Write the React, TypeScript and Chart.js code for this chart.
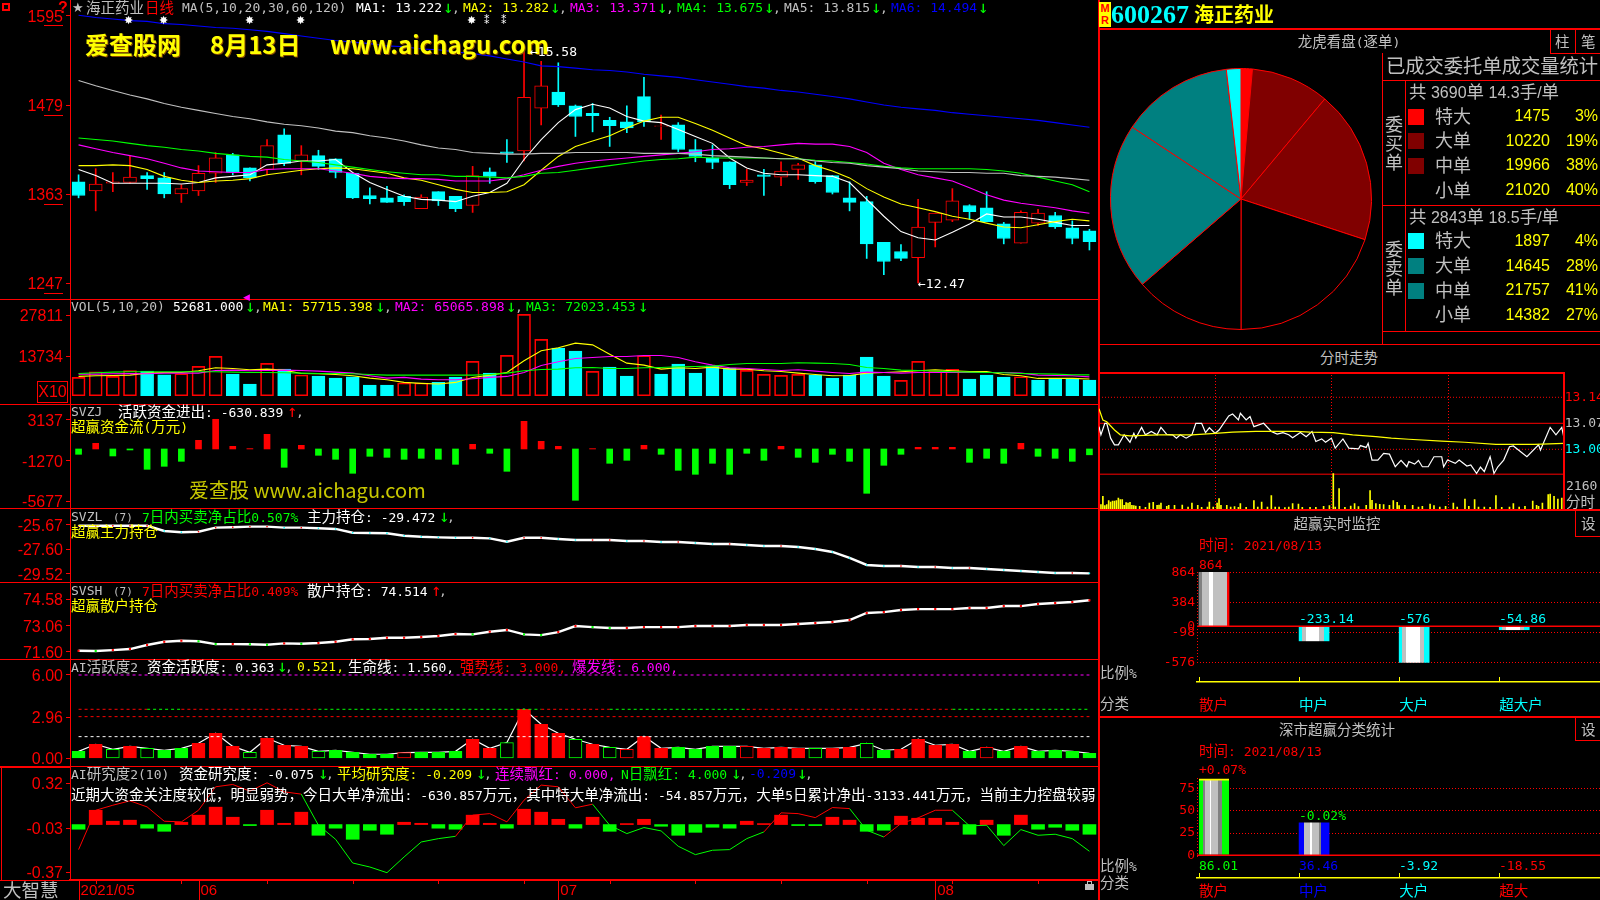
import React, { useEffect, useRef } from "react";
import { Chart, registerables } from "chart.js";
Chart.register(...registerables);

const idx = Array.from({ length: 60 }, (_, i) => String(i));
const candleOpen = [1379,1367,1377,1378,1387,1384,1363,1367,1390,1414,1397,1395,1440,1406,1413,1409,1390,1361,1358,1360,1344,1366,1360,1348,1392,1418,1419,1475,1496,1478,1468,1459,1457,1490,1451,1453,1421,1410,1405,1378,1388,1385,1395,1401,1387,1358,1353,1300,1288,1280,1326,1329,1348,1345,1324,1299,1325,1335,1319,1315];
const candleClose = [1361,1376,1379,1385,1383,1363,1370,1390,1410,1391,1384,1426,1403,1414,1399,1391,1358,1357,1352,1353,1359,1354,1344,1387,1386,1416,1489,1504,1479,1464,1465,1452,1449,1457,1452,1421,1412,1404,1375,1381,1386,1393,1401,1379,1365,1352,1298,1275,1279,1320,1338,1354,1340,1327,1305,1339,1338,1320,1305,1301];
const candleHigh = [1388,1396,1391,1412,1391,1391,1375,1400,1417,1416,1397,1434,1448,1426,1420,1409,1390,1371,1373,1362,1362,1366,1360,1399,1397,1434,1551,1536,1534,1479,1481,1463,1478,1515,1466,1456,1434,1427,1405,1395,1395,1405,1403,1405,1387,1379,1360,1300,1297,1356,1338,1370,1349,1366,1326,1341,1343,1339,1328,1317];
const candleLow = [1358,1341,1366,1377,1369,1358,1352,1361,1378,1388,1380,1388,1400,1388,1395,1384,1357,1350,1352,1348,1344,1348,1340,1339,1377,1404,1406,1453,1477,1438,1444,1425,1443,1451,1434,1418,1405,1396,1370,1374,1361,1374,1382,1377,1363,1341,1279,1258,1276,1247,1294,1327,1330,1327,1298,1299,1322,1318,1298,1290];
const ma1 = [1395,1387,1377,1377,1377,1377,1376,1378,1384,1386,1388,1401,1403,1406,1406,1408,1391,1378,1369,1360,1356,1355,1353,1360,1365,1377,1408,1434,1456,1473,1480,1475,1464,1458,1456,1447,1438,1429,1410,1397,1390,1388,1388,1387,1386,1378,1356,1334,1314,1306,1303,1313,1324,1337,1333,1333,1330,1326,1322,1322];
const ma2 = [1400,1400,1401,1400,1395,1386,1381,1378,1380,1381,1383,1388,1391,1394,1396,1397,1396,1393,1390,1384,1381,1375,1369,1365,1365,1366,1375,1394,1412,1425,1432,1439,1449,1458,1463,1463,1455,1446,1436,1426,1422,1416,1410,1400,1393,1384,1370,1359,1350,1345,1340,1334,1330,1325,1320,1319,1323,1327,1330,1328];
const ma3 = [1427,1422,1417,1413,1409,1403,1397,1393,1392,1391,1391,1395,1396,1396,1396,1393,1390,1386,1384,1383,1383,1382,1380,1380,1380,1383,1388,1394,1399,1403,1406,1408,1410,1412,1414,1416,1418,1421,1422,1424,1425,1427,1429,1428,1428,1425,1417,1403,1395,1388,1384,1380,1371,1362,1355,1351,1348,1345,1341,1338];
const ma4 = [1436,1434,1432,1429,1426,1424,1421,1419,1416,1414,1412,1411,1408,1406,1404,1401,1398,1395,1392,1390,1388,1388,1386,1386,1385,1384,1386,1390,1391,1394,1397,1400,1403,1406,1408,1409,1411,1410,1410,1410,1410,1409,1409,1407,1406,1404,1402,1399,1397,1396,1396,1396,1396,1395,1393,1390,1385,1380,1375,1366];
const ma5 = [1511,1504,1498,1492,1487,1481,1476,1472,1468,1464,1461,1457,1454,1452,1449,1445,1443,1439,1436,1432,1427,1423,1421,1417,1416,1415,1415,1416,1416,1417,1417,1417,1417,1416,1416,1416,1415,1413,1412,1411,1410,1409,1409,1406,1404,1403,1400,1398,1396,1393,1392,1391,1391,1390,1390,1387,1386,1385,1383,1381];
const ma6 = [1596,1593,1591,1589,1588,1585,1584,1582,1580,1579,1577,1575,1572,1569,1566,1563,1561,1559,1556,1555,1552,1551,1548,1546,1543,1539,1535,1530,1529,1527,1525,1524,1522,1519,1517,1515,1512,1509,1506,1503,1501,1498,1496,1493,1490,1487,1483,1479,1476,1474,1472,1469,1467,1465,1463,1461,1459,1456,1453,1450];
const priceTicks = [1595, 1479, 1363, 1247];

const volume = [6342,8302,6687,8648,8532,7264,7610,10146,13605,7495,4036,11184,9224,7149,6803,6111,6572,3690,3690,4381,4381,4612,6457,11876,7840,13951,28133,19486,16488,15450,8417,9916,6803,13836,7495,10954,7840,10377,9570,8763,7379,7033,7379,7149,6111,7149,13375,6803,5304,11876,8648,9109,5765,7149,6457,6572,5419,5996,5996,5419];
const volumeUp = [1,1,1,1,0,0,1,1,1,0,0,1,0,1,0,0,0,0,0,1,1,0,0,1,0,1,1,1,0,0,1,0,0,1,0,0,0,0,0,1,1,1,1,0,0,0,0,0,1,1,1,1,0,0,0,1,0,0,0,0];
const volMa1 = [6670,6900,7015,7130,7820,8050,8050,8625,9660,9430,8970,9200,8855,7705,7590,7360,6900,6095,5520,4600,4255,4025,4600,6325,7130,8050,12075,15525,16560,18170,17595,14375,11270,10580,9200,9660,9430,9890,9200,9200,8625,8395,7820,7360,6900,7015,7820,8050,8280,8625,8970,8625,8395,8395,7360,6900,5980,5980,5980,5771];
const volMa2 = [7475,7475,7590,7705,7590,7820,7820,7820,8740,8855,8625,8740,8855,8740,8510,8165,7820,6900,6095,6325,5750,5520,5520,5865,6325,6670,8050,10465,11730,12880,13225,13570,13570,13915,13915,13225,11730,10580,9660,9430,9085,8740,8970,8510,8050,7705,8165,8050,7820,8050,8050,8050,8050,8050,8050,7820,7130,7015,6900,6506];
const volMa3 = [7705,7935,8165,8280,8280,8280,8280,8280,8280,8165,8050,8050,7935,7820,7705,7705,7590,7360,7130,7130,7130,7130,7130,7130,7360,7820,8625,9085,9200,9660,9775,9430,9430,9660,9775,10005,10120,10235,10810,11155,11155,11155,11385,11270,11155,10810,9775,9430,8855,8740,8510,8280,8165,8050,7935,7705,7590,7475,7245,7202];
const volTicks = [27811, 13734];

const moneyFlow = [-578,614,-758,-108,-2202,-1877,-1336,939,3213,289,40,1588,-1986,397,-686,-1119,-2635,-794,-903,-1119,-1011,-1119,-1661,505,-469,-2419,2996,830,289,-5559,36,-1552,-1227,397,-578,-2310,-2744,-1552,-2744,-469,-1227,289,-903,-1444,-578,-1336,-4801,-1769,-578,181,181,181,-1444,-1011,-1552,614,-794,-1011,-1336,-631];
const moneyTicks = [3137, -1270, -5677];

const mainHold = [-25.73,-25.73,-25.73,-25.73,-25.73,-26.14,-26.24,-26.20,-25.88,-25.85,-25.80,-25.80,-25.88,-25.88,-25.93,-25.98,-26.28,-26.30,-26.32,-26.51,-26.59,-26.64,-26.67,-26.67,-26.72,-26.98,-26.67,-26.67,-26.77,-26.85,-26.85,-26.85,-26.93,-26.93,-27.01,-27.01,-27.08,-27.16,-27.16,-27.24,-27.32,-27.32,-27.40,-27.56,-27.79,-28.26,-28.81,-28.89,-28.89,-28.97,-28.97,-29.05,-29.05,-29.13,-29.21,-29.29,-29.36,-29.44,-29.44,-29.47];
const mainTicks = [-25.67, -27.6, -29.52];
const retailHold = [71.65,71.64,71.69,71.75,71.98,72.16,72.22,72.19,72.03,72.03,72.02,71.99,72.07,72.05,72.09,72.16,72.30,72.32,72.39,72.39,72.43,72.49,72.60,72.58,72.73,72.83,72.58,72.54,72.71,73.05,72.99,72.94,72.94,72.99,72.99,72.99,73.05,73.05,73.05,73.11,73.11,73.11,73.17,73.22,73.28,73.39,73.79,73.84,73.96,74.01,74.01,74.01,74.07,74.07,74.18,74.18,74.30,74.35,74.41,74.51];
const retailTicks = [74.58, 73.06, 71.6];

const activity = [0.50,1.01,0.65,0.86,0.72,0.58,0.72,1.08,1.80,0.86,0.43,1.44,0.94,0.86,0.50,0.58,0.43,0.29,0.29,0.41,0.43,0.43,0.50,1.37,0.72,1.13,3.53,2.45,1.80,1.37,1.01,0.79,0.65,1.58,0.72,0.79,0.65,0.86,0.86,0.86,0.72,0.79,0.72,0.72,0.72,0.79,1.08,0.58,0.65,1.37,0.94,1.01,0.50,0.79,0.50,0.86,0.50,0.58,0.50,0.363];
const activityUp = [0,1,0,1,0,0,0,1,1,1,0,1,1,1,0,0,0,0,0,1,0,0,0,1,1,0,1,1,1,0,1,0,1,1,1,0,0,0,0,1,1,1,1,0,1,1,0,0,1,1,1,1,0,1,0,1,0,0,0,0];
const activityHollow = [0,0,1,0,1,0,0,0,0,0,1,0,0,0,1,0,0,0,0,1,0,0,0,0,0,1,0,0,0,1,0,1,1,0,0,0,0,0,0,1,0,0,0,1,0,0,1,0,0,0,0,0,0,1,0,0,0,0,0,0];
const activityTicks = [6, 2.96, 0];
const burstLine = 6, upperLine = 3.53, strongLine = 3, lifeLine = 1.56;

const research = [-0.036,0.111,0.026,0.034,-0.028,-0.052,0.018,0.073,0.135,0.057,-0.005,0.111,0.010,0.096,-0.083,-0.028,-0.114,-0.044,-0.075,0.018,0.010,-0.028,-0.036,0.073,0.010,-0.028,0.119,0.096,0.041,-0.028,0.057,-0.052,0.003,0.041,-0.013,-0.083,-0.060,-0.021,-0.028,0.026,0.003,0.073,-0.003,-0.008,0.057,0.034,-0.052,-0.044,0.065,0.049,0.049,0.018,-0.075,0.034,-0.083,0.073,-0.036,-0.021,-0.044,-0.075];
const researchAvg = [-0.194,0.111,0.150,0.184,0.137,0.026,0.021,0.111,0.293,0.311,0.259,0.324,0.254,0.236,-0.005,-0.114,-0.298,-0.329,-0.373,-0.251,-0.135,-0.109,-0.091,0.073,0.085,0.021,0.189,0.306,0.293,0.130,0.158,-0.005,-0.070,-0.023,-0.049,-0.168,-0.233,-0.199,-0.194,-0.109,-0.057,0.091,0.085,0.054,0.132,0.124,-0.044,-0.096,0.008,0.052,0.111,0.111,-0.010,-0.005,-0.163,-0.039,-0.083,-0.075,-0.109,-0.207];
const researchTicks = [0.32, -0.03, -0.37];
const monthLabels: Record<number, string> = { 0: "2021/05", 7: "06", 28: "07", 50: "08" };
const weekTicks = [1, 6, 11, 16, 21, 26, 31, 36, 41, 46, 51, 56];

const pieLabels = ["买特大", "买大单", "买中单", "买小单", "卖小单", "卖中单", "卖大单", "卖特大"];
const pieValues = [1475, 10220, 19966, 21020, 14382, 21757, 14645, 1897];

const minuteX = [0,1,3,4,6,8,10,13,16,18,19,22,24,27,30,32,35,38,40,42,45,48,50,53,55,57,60,62,67,69,72,73,76,78,80,85,89,92,95,98,100,104,107,110,112,115,117,120,122,126,129,134,135,138,139,141,144,147,150,153,156,159,160,163,165,167,170,173,177,178,180,184,186,190,192,195,197,199,202,204,206,209,212,214,221,227,228,233,236,239,240];
const minutePrice = [13.061,13.039,13.07,13.07,13.03,13.012,13.012,13.039,13.019,13.043,13.03,13.059,13.039,13.048,13.039,13.059,13.04,13.039,13.03,13.039,13.03,13.039,13.07,13.07,13.045,13.058,13.043,13.052,13.09,13.095,13.079,13.097,13.079,13.088,13.061,13.07,13.048,13.041,13.045,13.039,13.031,13.045,13.034,13.048,13.021,13.028,13.019,13.03,13.003,13.028,13.003,13.001,13.01,13.005,13.016,12.971,12.971,12.989,12.987,12.953,12.97,12.953,12.967,12.96,12.97,12.953,12.953,12.98,12.98,12.953,12.971,12.962,12.971,12.955,12.958,12.935,12.952,12.94,12.98,12.935,12.953,12.971,13.007,13.009,12.98,13.012,12.998,13.059,13.039,13.059,13.034];
const avgX = [0,2,4,8,11,16,31,48,60,69,81,102,109,121,131,143,151,160,177,189,205,225,240];
const avgPrice = [13.109,13.079,13.074,13.052,13.039,13.036,13.039,13.039,13.043,13.046,13.048,13.048,13.046,13.045,13.039,13.034,13.03,13.027,13.022,13.019,13.013,13.013,13.016];
const minuteVolX = [1,2,3,4,5,6,7,8,9,10,11,12,13,14,15,16,17,18,19,21,24,26,28,30,31,32,35,36,39,43,46,48,51,53,56,57,59,61,62,63,66,68,70,72,73,76,80,82,84,87,89,91,93,96,98,100,103,105,109,112,116,119,121,122,124,127,130,132,134,138,140,141,143,145,147,150,152,154,155,158,162,165,167,171,173,176,179,183,185,189,191,194,196,199,202,205,208,212,214,217,220,224,226,227,229,232,233,235,237,239];
const minuteVol = [374,1094,288,374,720,605,691,691,720,950,806,806,317,547,518,576,317,288,259,230,144,518,576,317,346,518,230,317,317,346,173,518,317,144,173,605,173,518,893,317,317,173,202,144,461,144,720,173,605,173,1152,173,173,115,173,461,432,144,144,144,230,288,3053,173,1757,144,259,461,202,317,1584,749,461,403,374,317,720,576,288,317,317,173,230,432,288,173,230,518,173,864,230,806,173,173,144,1152,144,173,461,173,230,691,317,230,518,1238,1296,1094,864,950];
const minuteTicks = [13.14, 13.07, 13.0];
const minuteGuides = [60, 120, 180];
const minuteRefDotted = [13.14, 13.0];
const minuteRefSolid = [13.07, 12.933];

const monitorCats = ["散户", "中户", "大户", "超大户"];
const monitorValues = [864, -233.14, -576, -54.86];
const monitorTicks = [864, 384, 0, -98, -576];
const classCats = ["散户", "中户", "大户", "超大"];
const classValues = [86.01, 36.46, -3.92, -18.55];
const classTicks = [75, 50, 25, 0];

const LAT = '"DejaVu Sans Mono"';
const SANS = '"Liberation Sans"';
const CJK = '"Noto Sans CJK SC"';
const RED = "#ff0000", CYAN = "#00ffff", GREEN = "#00ff00", YEL = "#ffff00", MAG = "#ff00ff", GREY = "#c0c0c0", WHITE = "#ffffff", BLUE = "#0000ff";

const fit = (w?: number, h?: number) => (s: any) => {
  s.paddingTop = 0; s.paddingBottom = 0; s.paddingLeft = 0; s.paddingRight = 0;
  if (w !== undefined) s.width = w;
  if (h !== undefined) s.height = h;
};
const range = (v1: number, y1: number, v2: number, y2: number, top: number, bottom: number) => {
  const k = (v1 - v2) / (y2 - y1);
  return { max: v1 + (y1 - top) * k, min: v1 - (bottom - y1) * k };
};
const yAxis = (ticks: number[], dec: number, r: { min: number; max: number }) => ({
  type: "linear", position: "left", bounds: "data", ...r,
  afterBuildTicks: (a: any) => { a.ticks = ticks.map((value) => ({ value })); },
  afterFit: fit(70),
  border: { color: RED, display: true },
  grid: { drawOnChartArea: false, tickLength: 4, color: RED },
  ticks: { color: RED, autoSkip: false, padding: 3, labelOffset: 1.5, font: { family: SANS, size: 16 }, callback: (v: number) => v.toFixed(dec) },
});
const xHidden = { type: "category", display: false, grid: { display: false } };
const baseOpts = { animation: false, responsive: false, devicePixelRatio: 1, events: [] as string[], layout: { padding: 0, autoPadding: false }, plugins: { legend: { display: false }, tooltip: { enabled: false } } };
const line = (data: number[], color: string, width = 1.1, extra: any = {}) => ({ type: "line", data, borderColor: color, borderWidth: width, pointRadius: 0, tension: 0, order: 1, ...extra });

const underline = { id: "underline", afterDraw(c: any) {
  const { y } = c.scales; const g = c.ctx; g.save(); g.strokeStyle = RED; g.lineWidth = 1;
  y.ticks.forEach((t: any) => { const p = Math.round(y.getPixelForValue(t.value) + 9.5) + 0.5; g.beginPath(); g.moveTo(44, p); g.lineTo(63, p); g.stroke(); });
  g.restore();
} };

const mainCfg = () => {
  const up = candleOpen.map((o, i) => candleClose[i] > o);
  return {
    type: "bar", plugins: [underline],
    data: { labels: idx, datasets: [
      { type: "bar", data: candleLow.map((l, i) => [l, candleHigh[i]]), backgroundColor: up.map((u) => (u ? RED : CYAN)), barThickness: 1, grouped: false, order: 4 },
      { type: "bar", data: candleOpen.map((o, i) => [o, candleClose[i]]), backgroundColor: up.map((u) => (u ? "#000" : CYAN)), borderColor: up.map((u) => (u ? RED : CYAN)), borderWidth: 1, borderSkipped: false, barThickness: 13, grouped: false, order: 3 },
      line(ma5, GREY), line(ma4, GREEN), line(ma3, MAG), line(ma2, YEL), line(ma6, BLUE), line(ma1, WHITE),
    ] },
    options: { ...baseOpts, scales: { x: xHidden, y: yAxis(priceTicks, 0, range(1595, 16, 1247, 283, 0, 299)) } },
  };
};
const volCfg = () => ({
  type: "bar",
  data: { labels: idx, datasets: [
    { type: "bar", data: volume, backgroundColor: volumeUp.map((u) => (u ? "transparent" : CYAN)), borderColor: volumeUp.map((u) => (u ? RED : CYAN)), borderWidth: 1, borderSkipped: false, barThickness: 13, order: 3 },
    line(volMa3, GREEN), line(volMa2, MAG), line(volMa1, YEL),
  ] },
  options: { ...baseOpts, scales: { x: xHidden, y: yAxis(volTicks, 0, range(27811, 315.3, 13734, 356, 300, 404)) } },
});
const moneyCfg = () => ({
  type: "bar",
  data: { labels: idx, datasets: [{ data: moneyFlow, backgroundColor: moneyFlow.map((v) => (v >= 0 ? RED : GREEN)), barThickness: 6 }] },
  options: { ...baseOpts, scales: { x: xHidden, y: yAxis(moneyTicks, 0, range(3137, 420, -1270, 460.7, 405, 508)) } },
});
const holdCfg = (values: number[], ticks: number[], r: any, upC: string, downC: string, rad: number) => () => ({
  type: "line",
  data: { labels: idx, datasets: [{ data: values, borderColor: WHITE, borderWidth: 2.4, tension: 0, pointStyle: "rect", pointRadius: rad, pointBackgroundColor: values.map((v, i) => (i && v < values[i - 1] ? downC : upC)), pointBorderWidth: 0 }] },
  options: { ...baseOpts, scales: { x: { ...xHidden, offset: true }, y: yAxis(ticks, 2, r) } },
});
const greenRanges = [[4, 6], [14, 27], [31, 39], [51, 59]];
const activityCfg = () => ({
  type: "bar",
  data: { labels: idx, datasets: [
    { type: "bar", data: activity, backgroundColor: activity.map((_, i) => (activityHollow[i] ? "#000" : activityUp[i] ? RED : GREEN)), borderColor: activity.map((_, i) => (activityUp[i] ? RED : GREEN)), borderWidth: 1, borderSkipped: false, barThickness: 13, order: 2 },
    line(activity, WHITE, 1.2, { order: 3 }),
    line(idx.map(() => burstLine), MAG, 1, { borderDash: [3, 3] }),
    line(idx.map(() => upperLine), RED, 1, { borderDash: [3, 3], segment: { borderColor: (c: any) => (greenRanges.some(([a, b]) => c.p0DataIndex >= a && c.p0DataIndex < b) ? GREEN : RED) } }),
    line(idx.map(() => strongLine), RED, 1, { borderDash: [3, 3] }),
    line(idx.map(() => lifeLine), WHITE, 1, { borderDash: [3, 3] }),
  ] },
  options: { ...baseOpts, scales: { x: xHidden, y: yAxis(activityTicks, 2, range(6, 675, 0, 758.3, 660, 766)) } },
});
const dateTicks = { id: "dateTicks", afterDraw(c: any) {
  const { x, y } = c.scales; const g = c.ctx; g.save(); g.strokeStyle = RED; g.lineWidth = 1;
  const b = y.bottom;
  Object.keys(monthLabels).forEach((k) => { const p = Math.round(x.getPixelForValue(+k)) + 0.5; g.beginPath(); g.moveTo(p, b); g.lineTo(p, b + 20); g.stroke(); });
  weekTicks.forEach((k) => { const p = Math.round(x.getPixelForValue(k)) + 0.5; g.beginPath(); g.moveTo(p, b); g.lineTo(p, b + 4); g.stroke(); });
  g.restore();
} };
const researchCfg = () => ({
  type: "bar", plugins: [dateTicks],
  data: { labels: idx, datasets: [
    { type: "bar", data: research, backgroundColor: research.map((v) => (v >= 0 ? RED : GREEN)), barThickness: 13, minBarLength: 1, order: 3 },
    line(researchAvg, RED, 1, { segment: { borderColor: (c: any) => (c.p1.parsed.y >= 0 ? RED : GREEN) } }),
  ] },
  options: { ...baseOpts, scales: {
    x: { type: "category", position: "bottom", afterFit: fit(undefined, 20), border: { color: RED, width: 2 }, grid: { display: true, drawOnChartArea: false, drawTicks: false, offset: false, color: "transparent" },
      ticks: { autoSkip: false, maxRotation: 0, minRotation: 0, align: "start", padding: 2, labelOffset: 2, color: RED, font: { family: SANS, size: 15 }, callback: (_: any, i: number) => monthLabels[i] ?? "" } },
    y: yAxis(researchTicks, 2, range(0.32, 783.3 , -0.37, 872.3, 767, 880)),
  } },
});
const pieCfg = () => ({
  type: "pie",
  data: { labels: pieLabels, datasets: [{ data: pieValues, backgroundColor: [RED, "#800000", "#800000", "#000000", "#000000", "#008080", "#008080", CYAN], borderColor: RED, borderWidth: 1 }] },
  options: { ...baseOpts },
});
const minuteDeco = { id: "minuteDeco", beforeDatasetsDraw(c: any) {
  const { x } = c.scales; const g = c.ctx; const a = c.chartArea; g.save(); g.strokeStyle = RED; g.lineWidth = 1; g.setLineDash([1, 2]);
  minuteGuides.forEach((m) => { const p = Math.round(x.getPixelForValue(m)) + 0.5; g.beginPath(); g.moveTo(p, a.top); g.lineTo(p, a.bottom); g.stroke(); });
  g.restore();
} };
const hRef = (v: number, dash: number[]) => ({ type: "line", data: [{ x: 0, y: v }, { x: 240, y: v }], borderColor: RED, borderWidth: 1, borderDash: dash, pointRadius: 0, yAxisID: "y", order: 5 });
const minuteColors = [RED, GREY, CYAN];
const minuteCfg = () => ({
  type: "bar", plugins: [minuteDeco],
  data: { datasets: [
    { type: "bar", data: minuteVolX.map((x, i) => ({ x, y: minuteVol[i] })), backgroundColor: YEL, barThickness: 1, grouped: false, yAxisID: "v", order: 4 },
    ...minuteRefDotted.map((v) => hRef(v, [1, 2])), ...minuteRefSolid.map((v) => hRef(v, [])),
    { type: "line", data: minuteX.map((x, i) => ({ x, y: minutePrice[i] })), borderColor: WHITE, borderWidth: 1.2, pointRadius: 0, tension: 0, yAxisID: "y", order: 2 },
    { type: "line", data: avgX.map((x, i) => ({ x, y: avgPrice[i] })), borderColor: YEL, borderWidth: 1.2, pointRadius: 0, tension: 0, yAxisID: "y", order: 1 },
  ] },
  options: { ...baseOpts, scales: {
    x: { type: "linear", min: 0, max: 240, offset: false, bounds: "data", display: false, grid: { display: false } },
    v: { type: "linear", bounds: "data", display: false, ...range(0, 509, 2160, 484, 372, 510) },
    y: { type: "linear", position: "right", bounds: "data", ...range(13.14, 397.3, 13.0, 449.3, 372, 510), afterFit: fit(36.3),
      afterBuildTicks: (a: any) => { a.ticks = minuteTicks.map((value) => ({ value })); },
      border: { display: false }, grid: { display: false, drawTicks: false },
      ticks: { padding: 1, autoSkip: false, font: { family: LAT, size: 13 }, color: (c: any) => minuteColors[c.index] ?? GREY, callback: (v: number) => v.toFixed(2) } },
  } },
});

const barDeco = (axisX: number) => ({ id: "barDeco", beforeDatasetsDraw(c: any) {
  const { x, y } = c.scales; const g = c.ctx; g.save(); g.strokeStyle = RED; g.lineWidth = 1; g.setLineDash([1, 2]);
  const left = c.chartArea.left + 0.5; g.beginPath(); g.moveTo(left, y.top + axisX); g.lineTo(left, y.bottom - 20); g.stroke();
  g.setLineDash([]); g.strokeStyle = YEL;
  [0, 1, 2, 3].forEach((i) => { const p = Math.round(x.getPixelForValue(i) - 15) + 0.5; g.beginPath(); g.moveTo(p, y.bottom - 5); g.lineTo(p, y.bottom); g.stroke(); });
  g.restore();
} });
const stripeFill = (stops: [number, string][][]) => (ctx: any) => {
  if (ctx.type !== "data") return "#000";
  const st = stops[Math.min(ctx.dataIndex, stops.length - 1)];
  const sc = ctx.chart.scales.x;
  const cx = sc ? sc.getPixelForValue(ctx.dataIndex) : NaN;
  if (!Number.isFinite(cx)) return st[0][1];
  const gr = ctx.chart.ctx.createLinearGradient(cx - 15, 0, cx + 15, 0);
  let prev = 0;
  st.forEach(([end, col]) => { gr.addColorStop(prev, col); gr.addColorStop(end, col); prev = end; });
  return gr;
};
const strip = (e: string): [number, string][] => [[0.1, e], [0.24, GREY], [0.68, WHITE], [0.82, GREY], [1, e]];
const barPanelCfg = (cats: string[], values: number[], ticks: number[], r: any, labelColors: string[], stops: any, capFirst: boolean, topOffset: number, axisH: number, labelPad: number) => () => ({
  type: "bar", plugins: [barDeco(topOffset)],
  data: { datasets: [
    { type: "bar", data: values.map((v, i) => ({ x: i, y: v })).filter((p) => ticks[0] > 100 || p.y > 0), backgroundColor: stripeFill(stops), borderColor: YEL, borderWidth: (c: any) => (capFirst && c.dataIndex === 0 ? { top: 2, left: 0, right: 0, bottom: 0 } : 0), borderSkipped: false, barThickness: 30, grouped: false, order: 2 },
    { type: "line", data: [{ x: -0.17, y: 0 }, { x: 3.857, y: 0 }], borderColor: RED, borderWidth: 1.5, pointRadius: 0, order: 1 },
  ] },
  options: { ...baseOpts, scales: {
    x: { type: "linear", min: -0.17, max: 3.857, offset: false, bounds: "data", position: "bottom", afterFit: fit(undefined, axisH),
      afterBuildTicks: (a: any) => { a.ticks = [0, 1, 2, 3].map((value) => ({ value })); },
      border: { color: YEL, width: 1.5 }, grid: { drawOnChartArea: false, drawTicks: false, color: "transparent" },
      ticks: { autoSkip: false, maxRotation: 0, minRotation: 0, align: "start", labelOffset: -15, padding: labelPad, font: { family: CJK, size: 14.5 }, color: (c: any) => labelColors[c.index] ?? RED, callback: (v: number) => cats[v] ?? "" } },
    y: { type: "linear", position: "left", bounds: "data", ...r, afterFit: fit(97),
      afterBuildTicks: (a: any) => { a.ticks = ticks.map((value) => ({ value })); },
      border: { display: false, dash: [1, 2] }, grid: { color: RED, drawTicks: false },
      ticks: { padding: 2, autoSkip: false, color: RED, font: { family: LAT, size: 13 }, callback: (v: number) => String(v) } },
  } },
});

function Cv({ x, y, w, h, cfg }: { x: number; y: number; w: number; h: number; cfg: () => any }) {
  const ref = useRef<HTMLCanvasElement>(null);
  useEffect(() => { const c = new Chart(ref.current as any, cfg()); return () => c.destroy(); }, []);
  return <canvas ref={ref} width={w} height={h} style={{ position: "absolute", left: x, top: y, width: w, height: h, display: "block" }} />;
}
const splitRe = /([\u2E80-\u9FFF\uFF00-\uFFEF\u3000-\u303F]+)/;
function T({ x, y, c = WHITE, children, cjk = 14.5, lat = 13, font = LAT, right, center, bold, w }: any) {
  const parts = String(children).split(splitRe).filter(Boolean);
  const style: any = { position: "absolute", top: y - 10, lineHeight: "20px", color: c, whiteSpace: "pre", fontWeight: bold ? 700 : 400 };
  if (right !== undefined) { style.right = 1600 - right; }
  else if (center !== undefined) { style.left = center; style.transform = "translateX(-50%)"; }
  else style.left = x;
  if (w) { style.width = w; style.overflow = "hidden"; }
  return <div style={style}>{parts.map((p, i) => /[\u2E80-\u9FFF\uFF00-\uFFEF\u3000-\u303F]/.test(p) ? <span key={i} style={{ fontFamily: CJK, fontSize: cjk }}>{p}</span> : <span key={i} style={{ fontFamily: font, fontSize: lat }}>{p}</span>)}</div>;
}
const Down = ({ x, y }: any) => <T x={x - 2} y={y} c={GREEN} lat={17}>↓</T>;
const Up = ({ x, y }: any) => <T x={x - 2} y={y} c={RED} lat={17}>↑</T>;
const H = ({ x1, x2, y, t = 1, c = RED }: any) => <div style={{ position: "absolute", left: x1, top: y, width: x2 - x1, height: t, background: c }} />;
const V = ({ x, y1, y2, t = 1, c = RED }: any) => <div style={{ position: "absolute", left: x, top: y1, width: t, height: y2 - y1, background: c }} />;

const stripesA = [[[0.09, "#808080"], [0.33, GREY], [0.47, WHITE], [0.93, GREY], [1, RED]], strip(CYAN), strip(CYAN), strip(CYAN)];
const stripesB = [[[0.13, GREEN], [0.2, "#808080"], [0.36, GREY], [0.41, WHITE], [0.63, GREY], [0.75, "#808080"], [1, GREEN]], [[0.17, BLUE], [0.37, GREY], [0.43, WHITE], [0.68, GREY], [0.74, "#808080"], [1, BLUE]]];

const Swatch = ({ y, c }: any) => <div style={{ position: "absolute", left: 1408, top: y - 8, width: 16, height: 16, background: c }} />;
const rowsBuy = [["特大", "1475", "3%", RED], ["大单", "10220", "19%", "#800000"], ["中单", "19966", "38%", "#800000"], ["小单", "21020", "40%", null]];
const rowsSell = [["特大", "1897", "4%", CYAN], ["大单", "14645", "28%", "#008080"], ["中单", "21757", "41%", "#008080"], ["小单", "14382", "27%", null]];
const stars = [129, 164, 250, 301, 472];
const advice = "近期大资金关注度较低\uFF0C明显弱势\uFF0C今日大单净流出: -630.857万元\uFF0C其中特大单净流出: -54.857万元\uFF0C大单5日累计净出-3133.441万元\uFF0C当前主力控盘较弱";

export default function App() {
  useEffect(() => { document.body.style.margin = "0"; document.body.style.background = "#000"; document.body.style.overflow = "hidden"; }, []);
  return (
    <div style={{ position: "fixed", left: 0, top: 0, width: 1600, height: 900, background: "#000", overflow: "hidden" }}>
      <Cv x={0} y={0} w={1098} h={299} cfg={mainCfg} />
      <Cv x={0} y={300} w={1098} h={104} cfg={volCfg} />
      <Cv x={0} y={405} w={1098} h={103} cfg={moneyCfg} />
      <Cv x={0} y={509} w={1098} h={73} cfg={holdCfg(mainHold, mainTicks, range(-25.67, 525, -29.52, 574, 509, 582), RED, CYAN, 1)} />
      <Cv x={0} y={583} w={1098} h={76} cfg={holdCfg(retailHold, retailTicks, range(74.58, 599, 71.6, 651.7, 583, 659), RED, GREEN, 1.5)} />
      <Cv x={0} y={660} w={1098} h={106} cfg={activityCfg} />
      <Cv x={0} y={767} w={1098} h={133} cfg={researchCfg} />

      {[299, 404, 508, 582, 659, 766].map((y) => <H key={y} x1={0} x2={1099} y={y} />)}
      <H x1={0} x2={70} y={880} /><V x={1} y1={767} y2={880} /><H x1={0} x2={70} y={767} />

      <div style={{ position: "absolute", left: 2, top: 3, width: 4, height: 4, border: "2px solid #f00" }} />
      <T x={58} y={8} c={RED} bold lat={16} font={SANS}>?</T>
      <T x={72} y={7} c={GREY} lat={13} font={"DejaVu Sans"}>★</T>
      <T x={86} y={7} c={GREY}>海正药业</T>
      <T x={145} y={7} c={RED}>日线</T>
      <T x={182} y={7} c={GREY}>MA(5,10,20,30,60,120)</T>
      <T x={356} y={7} c={WHITE}>MA1: 13.222</T><Down x={445} y={7} /><T x={452} y={7} c={GREY}>,</T>
      <T x={463} y={7} c={YEL}>MA2: 13.282</T><Down x={552} y={7} /><T x={559} y={7} c={GREY}>,</T>
      <T x={570} y={7} c={MAG}>MA3: 13.371</T><Down x={659} y={7} /><T x={666} y={7} c={GREY}>,</T>
      <T x={677} y={7} c={GREEN}>MA4: 13.675</T><Down x={766} y={7} /><T x={773} y={7} c={GREY}>,</T>
      <T x={784} y={7} c={GREY}>MA5: 13.815</T><Down x={873} y={7} /><T x={880} y={7} c={GREY}>,</T>
      <T x={891} y={7} c={BLUE}>MA6: 14.494</T><Down x={980} y={7} />
      {stars.map((x) => <T key={x} x={x - 5} y={19} c={WHITE} lat={11} font={"DejaVu Sans"}>✸</T>)}
      <T x={484} y={19} c={WHITE} lat={11} font={"DejaVu Sans"}>⁑</T>
      <T x={501} y={19} c={WHITE} lat={11} font={"DejaVu Sans"}>⁑</T>
      <div style={{ position: "absolute", left: 85, top: 28, color: YEL, fontFamily: CJK, fontWeight: 700, fontSize: 24, lineHeight: "32px", whiteSpace: "pre", textShadow: "1px 1px 0 #8a4a00" }}>爱查股网</div>
      <div style={{ position: "absolute", left: 210, top: 28, color: YEL, fontFamily: CJK, fontWeight: 700, fontSize: 24, lineHeight: "32px", whiteSpace: "pre", textShadow: "1px 1px 0 #8a4a00" }}>8月13日</div>
      <div style={{ position: "absolute", left: 330, top: 28, color: YEL, fontFamily: CJK, fontWeight: 700, fontSize: 24, lineHeight: "32px", whiteSpace: "pre", textShadow: "1px 1px 0 #8a4a00" }}>www.aichagu.com</div>
      <T x={530} y={51} c={WHITE}>←15.58</T>
      <T x={918} y={283} c={WHITE}>←12.47</T>
      <T x={243} y={295} c={MAG} lat={9} font={"DejaVu Sans"}>◀</T>

      <T x={71} y={306} c={GREY}>VOL(5,10,20)</T><T x={173} y={306}>52681.000</T><Down x={247} y={306} /><T x={254} y={306} c={GREY}>,</T>
      <T x={263} y={306} c={YEL}>MA1: 57715.398</T><Down x={377} y={306} /><T x={384} y={306} c={GREY}>,</T>
      <T x={395} y={306} c={MAG}>MA2: 65065.898</T><Down x={508} y={306} /><T x={515} y={306} c={GREY}>,</T>
      <T x={526} y={306} c={GREEN}>MA3: 72023.453</T><Down x={640} y={306} />
      <div style={{ position: "absolute", left: 37, top: 381, width: 29, height: 20, border: "1px solid #f00", color: RED, fontFamily: SANS, fontSize: 16, lineHeight: "20px", textAlign: "center" }}>X10</div>

      <T x={71} y={411} c={GREY}>SVZJ</T><T x={118} y={411}>活跃资金进出: -630.839</T><Up x={289} y={411} /><T x={296} y={411} c={GREY}>,</T>
      <T x={71} y={426} c={YEL}>超赢资金流(万元)</T>
      <div style={{ position: "absolute", left: 189, top: 476, color: "#c8c800", whiteSpace: "pre", fontFamily: CJK, fontSize: 20, lineHeight: "28px" }}>爱查股 www.aichagu.com</div>

      <T x={71} y={516} c={GREY}>SVZL</T><T x={113} y={516} c={GREY} lat={11}>(7)</T><T x={142} y={516} c={GREEN}>7日内买卖净占比0.507%</T><T x={307} y={516}>主力持仓: -29.472</T><Down x={441} y={516} /><T x={447} y={516} c={GREY}>,</T>
      <T x={71} y={531} c={YEL}>超赢主力持仓</T>
      <T x={71} y={590} c={GREY}>SVSH</T><T x={113} y={590} c={GREY} lat={11}>(7)</T><T x={142} y={590} c={RED}>7日内买卖净占比0.409%</T><T x={307} y={590}>散户持仓: 74.514</T><Up x={433} y={590} /><T x={439} y={590} c={GREY}>,</T>
      <T x={71} y={605} c={YEL}>超赢散户持仓</T>

      <T x={71} y={666} c={GREY}>AI活跃度2</T><T x={147} y={666}>资金活跃度: 0.363</T><Down x={279} y={666} /><T x={285} y={666} c={GREY}>,</T>
      <T x={297} y={666} c={YEL}>0.521,</T><T x={348} y={666}>生命线: 1.560,</T><T x={460} y={666} c={RED}>强势线: 3.000,</T><T x={572} y={666} c={MAG}>爆发线: 6.000,</T>
      <T x={71} y={773} c={GREY}>AI研究度2(10)</T><T x={179} y={773}>资金研究度: -0.075</T><Down x={320} y={773} /><T x={326} y={773} c={GREY}>,</T>
      <T x={337} y={773} c={YEL}>平均研究度: -0.209</T><Down x={478} y={773} /><T x={484} y={773} c={GREY}>,</T>
      <T x={495} y={773} c={MAG}>连续飘红: 0.000,</T><T x={621} y={773} c={GREEN}>N日飘红: 4.000</T><Down x={733} y={773} /><T x={739} y={773} c={GREY}>,</T>
      <T x={749} y={773} c={BLUE}>-0.209</T><Down x={799} y={773} /><T x={805} y={773} c={GREY}>,</T>
      <T x={71} y={794} w={1027}>{advice}</T>
      <T x={3} y={889} c={GREY} cjk={18.5}>大智慧</T>
      <div style={{ position: "absolute", left: 1085, top: 884, width: 9, height: 6, background: "#c0c0c0" }} />
      <div style={{ position: "absolute", left: 1087, top: 881, width: 3, height: 3, border: "1px solid #c0c0c0", borderBottom: 0 }} />

      {/* right side */}
      <V x={1098} y1={0} y2={900} t={2} />
      <H x1={1098} x2={1600} y={28} t={2} />
      <div style={{ position: "absolute", left: 1099, top: 2, width: 12, height: 25, background: YEL, color: RED, fontFamily: SANS, fontWeight: 700, fontSize: 11, lineHeight: "12px", textAlign: "center" }}>M<br />R</div>
      <div style={{ position: "absolute", left: 1111, top: 0, color: CYAN, fontFamily: '"Liberation Serif"', fontWeight: 700, fontSize: 26, lineHeight: "30px" }}>600267</div>
      <div style={{ position: "absolute", left: 1194, top: 0, color: YEL, fontFamily: CJK, fontWeight: 700, fontSize: 20, lineHeight: "28px", whiteSpace: "pre" }}>海正药业</div>
      <T center={1349} y={41} c={GREY}>龙虎看盘(逐单)</T>
      <V x={1550} y1={29} y2={53} /><V x={1575} y1={29} y2={53} /><H x1={1550} x2={1600} y={53} />
      <T x={1555} y={41} c={GREY}>柱</T><T x={1581} y={41} c={GREY}>笔</T>
      <V x={1382} y1={53} y2={344} /><V x={1405} y1={80} y2={331} />
      <H x1={1382} x2={1600} y={80} /><H x1={1382} x2={1600} y={205} /><H x1={1382} x2={1600} y={331} />
      <H x1={1098} x2={1600} y={344} />
      <T x={1386} y={65} c={GREY} cjk={19.3}>已成交委托单成交量统计</T>
      <Cv x={1110} y={68} w={262} h={262} cfg={pieCfg} />
      <T x={1409} y={91} c={GREY} cjk={17.5} lat={16} font={SANS}>共 3690单 14.3手/单</T>
      <T x={1409} y={216} c={GREY} cjk={17.5} lat={16} font={SANS}>共 2843单 18.5手/单</T>
      {["委", "买", "单"].map((t, i) => <T key={t} x={1385} y={123 + i * 19} c={GREY} cjk={18}>{t}</T>)}
      {["委", "卖", "单"].map((t, i) => <T key={t} x={1385} y={248 + i * 19} c={GREY} cjk={18}>{t}</T>)}
      {rowsBuy.map((r, i) => <React.Fragment key={i}>
        {r[3] && <Swatch y={116.5 + i * 24.7} c={r[3]} />}
        <T x={1435} y={114.5 + i * 24.7} c={GREY} cjk={18}>{r[0]}</T>
        <T right={1550} y={116 + i * 24.7} c={YEL} lat={16} font={SANS}>{r[1]}</T>
        <T right={1598} y={116 + i * 24.7} c={YEL} lat={16} font={SANS}>{r[2]}</T>
      </React.Fragment>)}
      {rowsSell.map((r, i) => <React.Fragment key={i}>
        {r[3] && <Swatch y={241.3 + i * 24.7} c={r[3]} />}
        <T x={1435} y={239.3 + i * 24.7} c={GREY} cjk={18}>{r[0]}</T>
        <T right={1550} y={241 + i * 24.7} c={YEL} lat={16} font={SANS}>{r[1]}</T>
        <T right={1598} y={241 + i * 24.7} c={YEL} lat={16} font={SANS}>{r[2]}</T>
      </React.Fragment>)}

      <T center={1349} y={357} c={GREY}>分时走势</T>
      <Cv x={1099} y={372} w={501} h={138} cfg={minuteCfg} />
      <H x1={1098} x2={1564} y={372} t={2} /><V x={1563} y1={372} y2={509} t={2} />
      <T x={1566} y={485} c={GREY}>2160</T><T x={1566} y={501} c={GREY}>分时</T>
      <H x1={1098} x2={1600} y={509} t={2} />

      <T center={1337} y={523} c={GREY}>超赢实时监控</T>
      <T x={1199} y={544} c={RED}>时间: 2021/08/13</T>
      <V x={1575} y1={509} y2={536} /><H x1={1575} x2={1600} y={536} /><T x={1581} y={523} c={GREY}>设</T>
      <Cv x={1100} y={558} w={500} h={158} cfg={barPanelCfg(monitorCats, monitorValues, monitorTicks, range(864, 572.3, -576, 662.3, 558, 682), [RED, CYAN, CYAN, CYAN], stripesA, false, 14, 34, 14)} />
      <T x={1199} y={564} c={RED}>864</T>
      <T x={1299} y={618} c={CYAN}>-233.14</T><T x={1399} y={618} c={CYAN}>-576</T><T x={1499} y={618} c={CYAN}>-54.86</T>
      <T x={1100} y={672} c={GREY}>比例%</T><T x={1100} y={703} c={GREY}>分类</T>
      <H x1={1098} x2={1600} y={716} t={2} />

      <T center={1337} y={729} c={GREY}>深市超赢分类统计</T>
      <T x={1199} y={750} c={RED}>时间: 2021/08/13</T>
      <V x={1575} y1={717} y2={740} /><H x1={1575} x2={1600} y={740} /><T x={1581} y={729} c={GREY}>设</T>
      <Cv x={1100} y={760} w={500} h={140} cfg={barPanelCfg(classCats, classValues, classTicks, range(75, 788.7, 0, 855.3, 760, 878), [RED, BLUE, CYAN, RED], stripesB, true, 18, 22, 4)} />
      <T x={1199} y={769} c={RED}>+0.07%</T><T x={1299} y={815} c={GREEN}>-0.02%</T>
      <T x={1199} y={865} c={GREEN}>86.01</T><T x={1299} y={865} c={BLUE}>36.46</T><T x={1399} y={865} c={CYAN}>-3.92</T><T x={1499} y={865} c={RED}>-18.55</T>
      <T x={1100} y={865} c={GREY}>比例%</T><T x={1100} y={882} c={GREY}>分类</T>
    </div>
  );
}
